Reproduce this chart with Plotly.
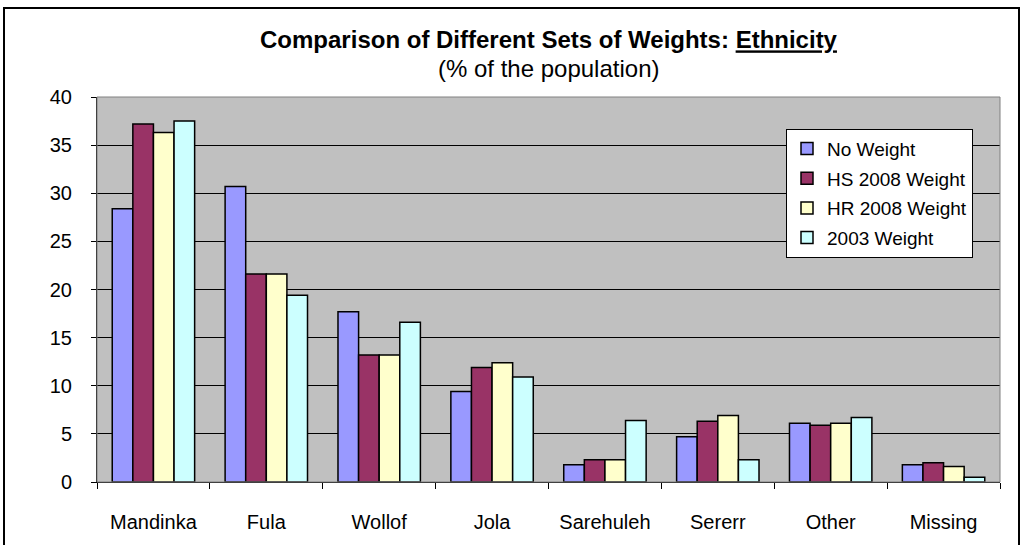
import plotly.graph_objects as go

categories = ["Mandinka", "Fula", "Wollof", "Jola", "Sarehuleh", "Sererr", "Other", "Missing"]
no_weight = [28.4, 30.7, 17.7, 9.4, 1.8, 4.7, 6.1, 1.8]
hs_2008 = [37.2, 21.6, 13.2, 11.9, 2.3, 6.3, 5.9, 2.0]
hr_2008 = [36.3, 21.6, 13.2, 12.4, 2.3, 6.9, 6.1, 1.6]
w_2003 = [37.5, 19.4, 16.6, 10.9, 6.4, 2.3, 6.7, 0.5]
series_names = ["No Weight", "HS 2008 Weight", "HR 2008 Weight", "2003 Weight"]
colors = ["#9999FF", "#993366", "#FFFFCC", "#CCFFFF"]
y_ticks = [0, 5, 10, 15, 20, 25, 30, 35, 40]

fig = go.Figure()
for i, (name, vals) in enumerate(zip(series_names, [no_weight, hs_2008, hr_2008, w_2003])):
    fig.add_trace(go.Bar(
        x=categories, y=vals, name=name, legendgroup=name,
        marker=dict(color=colors[i], line=dict(color="black", width=1.5)),
    ))

fig.update_layout(
    width=1024, height=545,
    margin=dict(l=97, r=24, t=97, b=59),
    paper_bgcolor="white", plot_bgcolor="#C0C0C0",
    barmode="group", bargap=0.27, bargroupgap=0,
    font=dict(family="Liberation Sans, Arial, sans-serif", color="black", size=20),
    title=dict(
        text="<b>Comparison of Different Sets of Weights: <u>Ethnicity</u></b>",
        x=0.5, xanchor="center", xref="paper", y=1 - 40 / 545, yanchor="middle",
        yref="container", font=dict(size=24),
    ),
    annotations=[dict(
        text="(% of the population)", xref="paper", yref="paper",
        x=0.5, y=(486 - 68) / 389, xanchor="center", yanchor="middle",
        showarrow=False, font=dict(size=24),
    )],
    showlegend=True,
    legend=dict(
        x=(786 - 97) / 903, y=(486 - 129) / 389, xanchor="left", yanchor="top",
        bgcolor="white", bordercolor="black", borderwidth=1,
        font=dict(size=19), traceorder="grouped", tracegroupgap=2,
        itemwidth=30,
    ),
    xaxis=dict(
        type="category", showline=True, linecolor="black", linewidth=1,
        ticks="outside", tickson="boundaries", ticklen=6, tickcolor="black",
        tickfont=dict(size=20), showgrid=False, ticklabelstandoff=22,
    ),
    yaxis=dict(
        range=[0, 40], tickvals=y_ticks, showline=True, linecolor="black", linewidth=1,
        ticks="outside", ticklen=5, tickcolor="black",
        showgrid=True, gridcolor="black", gridwidth=1, zeroline=False,
        tickfont=dict(size=20), ticklabelstandoff=15,
    ),
    shapes=[
        dict(type="rect", xref="paper", yref="paper", x0=0, x1=1, y0=0, y1=1,
             line=dict(color="#808080", width=1)),
        dict(type="rect", xref="paper", yref="paper",
             x0=(4 - 97) / 903, x1=(1019 - 97) / 903,
             y0=(486 - 570) / 389, y1=(486 - 7) / 389,
             line=dict(color="black", width=2)),
    ],
)

fig.write_html("out.html", config={"displayModeBar": False},
               post_script="document.body.style.margin='0';")
